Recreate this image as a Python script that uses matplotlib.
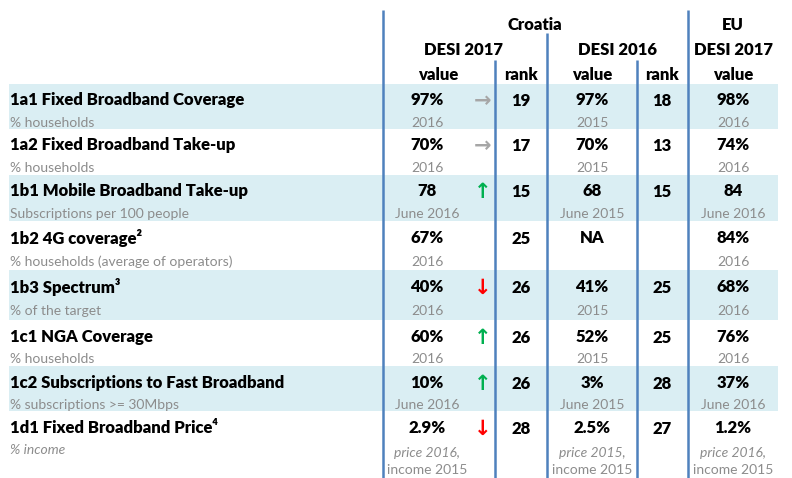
import matplotlib.pyplot as plt

labels = ["1a1 Fixed Broadband Coverage", "1a2 Fixed Broadband Take-up",
          "1b1 Mobile Broadband Take-up", "1b2 4G coverage\u00b2",
          "1b3 Spectrum\u00b3", "1c1 NGA Coverage",
          "1c2 Subscriptions to Fast Broadband", "1d1 Fixed Broadband Price\u2074"]
units = ["% households", "% households", "Subscriptions per 100 people",
         "% households (average of operators)", "% of the target",
         "% households", "% subscriptions >= 30Mbps", "% income"]
hr17_value = ["97%", "70%", "78", "67%", "40%", "60%", "10%", "2.9%"]
hr17_period = ["2016", "2016", "June 2016", "2016", "2016", "2016", "June 2016",
               "price 2016,\nincome 2015"]
trend = ["flat", "flat", "up", "", "down", "up", "up", "down"]
hr17_rank = ["19", "17", "15", "25", "26", "26", "26", "28"]
hr16_value = ["97%", "70%", "68", "NA", "41%", "52%", "3%", "2.5%"]
hr16_period = ["2015", "2015", "June 2015", "", "2015", "2015", "June 2015",
               "price 2015,\nincome 2015"]
hr16_rank = ["18", "13", "15", "", "25", "25", "28", "27"]
eu_value = ["98%", "74%", "84", "84%", "68%", "76%", "37%", "1.2%"]
eu_period = ["2016", "2016", "June 2016", "2016", "2016", "2016", "June 2016",
             "price 2016,\nincome 2015"]

# layout (pixels)
row_tops = [84, 129, 175, 221, 270, 320, 366, 411, 478]
col_val17, col_arrow, col_rank17, col_val16, col_rank16, col_eu = 427, 483, 521, 592, 662, 733
blue = "#4F81BD"
shade = "#DAEEF3"
grey = "#8C8C8C"
FAM = ["Lato", "DejaVu Sans"]
arrow_style = {"flat": ("\u2192", "#A6A6A6"), "up": ("\u2191", "#00B050"),
               "down": ("\u2193", "#FF0000")}

fig = plt.figure(figsize=(7.92, 4.78), dpi=100)
ax = fig.add_axes([0, 0, 1, 1])
ax.set_xlim(0, 792)
ax.set_ylim(478, 0)
ax.axis("off")

bold = dict(family=FAM, fontsize=12, fontweight="heavy", color="black", va="center")
small = dict(family=FAM, fontsize=10, color=grey, va="center")

for i in range(len(labels)):
    top, bot = row_tops[i], row_tops[i + 1]
    if i % 2 == 0:
        ax.axhspan(top, bot, xmin=9 / 792, xmax=778 / 792, color=shade, lw=0, zorder=0)
    last = i == len(labels) - 1
    ytop = top + 16 + (1 if i >= 3 else 0)
    ysub = top + 39 + (2 if i in (3, 4) else 0)
    ax.text(10, ytop, labels[i], ha="left", **bold)
    ax.text(10, ysub, units[i], ha="left", style="italic" if last else "normal", **small)
    ax.text(col_val17, ytop, hr17_value[i], ha="center", **bold)
    ax.text(col_val16, ytop, hr16_value[i], ha="center", **bold)
    ax.text(col_eu, ytop, eu_value[i], ha="center", **bold)
    ax.text(col_rank17, ytop + 1, hr17_rank[i], ha="center", **bold)
    ax.text(col_rank16, ytop + 1, hr16_rank[i], ha="center", **bold)
    if trend[i]:
        sym, c = arrow_style[trend[i]]
        ax.text(col_arrow, ytop + 1, sym, ha="center", va="center", color=c,
                fontsize=15, fontweight="bold", family=["DejaVu Sans"])
    for x, p in [(col_val17, hr17_period[i]), (col_val16, hr16_period[i]), (col_eu, eu_period[i])]:
        if last:
            first, second = p.split("\n")
            ax.text(x, ysub + 3, first, ha="center", style="italic", **small)
            ax.text(x, ysub + 20, second, ha="center", **small)
        else:
            ax.text(x, ysub, p, ha="center", **small)

# header
ax.text(535, 25, "Croatia", ha="center", **bold)
ax.text(733, 25, "EU", ha="center", **bold)
ax.text(463, 50, "DESI 2017", ha="center", **bold)
ax.text(617, 50, "DESI 2016", ha="center", **bold)
ax.text(733, 50, "DESI 2017", ha="center", **bold)
for x, t in [(438, "value"), (521, "rank"), (592, "value"), (662, "rank"), (733, "value")]:
    ax.text(x, 75, t, ha="center", **bold)

# column rules
for x, y0 in [(383, 10), (495, 60), (547, 33), (637, 60), (688, 10)]:
    ax.plot([x, x], [y0, 478], color=blue, lw=1.8, solid_capstyle="butt", zorder=3)

fig.savefig("out.png", dpi=100)
